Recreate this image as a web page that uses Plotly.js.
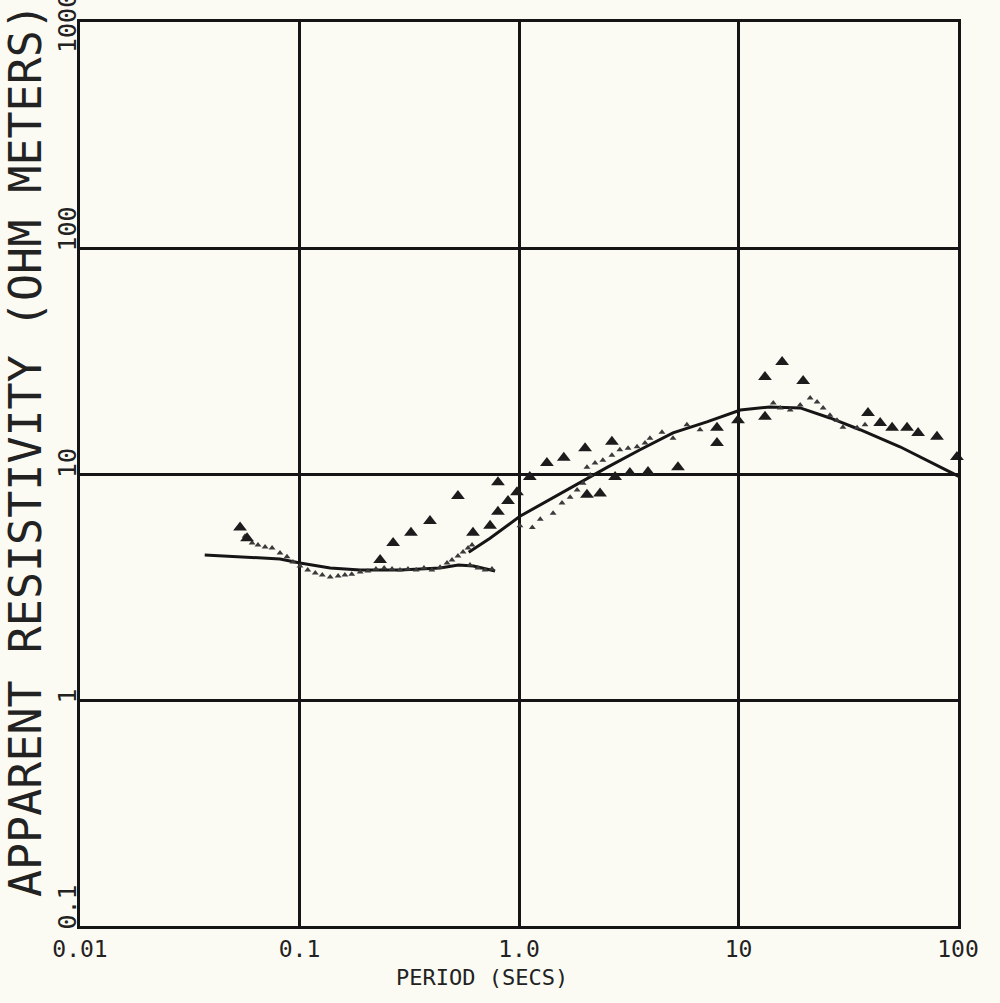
<!DOCTYPE html>
<html><head><meta charset="utf-8">
<script src="https://cdn.plot.ly/plotly-3.0.1.min.js"></script>
<style>html,body{margin:0;padding:0;background:#fcfbf3;}</style>
</head><body><div id="chart" style="width:1000px;height:1003px;"></div>
<script>
// Model curve 1 (short-period branch)
const modelA_period = [0.037, 0.0536, 0.0815, 0.1005, 0.138, 0.189, 0.287, 0.437, 0.53, 0.62, 0.70, 0.778];
const modelA_rho    = [4.38, 4.30, 4.21, 4.04, 3.84, 3.76, 3.76, 3.84, 3.96, 3.92, 3.80, 3.72];
// Model curve 2 (rising branch)
const modelB_period = [0.59, 0.738, 1.01, 1.38, 1.90, 2.52, 3.56, 5.03, 7.18, 10.2, 13.9, 19.1, 26.1, 35.8, 54.4, 100, 155];
const modelB_rho    = [4.5, 5.2, 6.5, 7.7, 9.2, 10.7, 12.8, 15.2, 17.0, 19.2, 19.8, 19.6, 17.7, 15.7, 13.2, 9.8, 7.9];
// Large triangles
const obsA_period = [0.0536, 0.0577, 0.233, 0.267, 0.322, 0.393, 0.527, 0.617, 0.738, 0.802, 0.891, 0.802, 0.979, 1.12, 1.34, 1.60, 2.00, 2.65, 2.04, 2.34, 2.74, 3.20, 3.87, 5.30, 7.98, 7.98, 9.95, 13.2, 15.8, 19.7, 13.2, 38.9, 44.2, 50.1, 58.6, 65.8, 80.2, 98.9, 135.5];
const obsA_rho    = [5.8, 5.2, 4.16, 4.95, 5.5, 6.2, 8.0, 5.5, 5.9, 6.8, 7.6, 9.2, 8.3, 9.7, 11.2, 11.8, 13.0, 13.9, 8.1, 8.2, 9.7, 10.1, 10.2, 10.7, 16.0, 13.7, 17.3, 26.9, 31.3, 25.8, 17.9, 18.6, 16.8, 16.0, 16.0, 15.2, 14.6, 11.9, 9.1];
// Small triangles
const obsB_period = [0.0565, 0.0608, 0.0647, 0.0697, 0.075, 0.0815, 0.0877, 0.0934, 0.1005, 0.109, 0.118, 0.127, 0.138, 0.150, 0.161, 0.173, 0.189, 0.205, 0.223, 0.243, 0.264, 0.287, 0.312, 0.340, 0.369, 0.401, 0.437, 0.470, 0.495, 0.527, 0.556, 0.586, 0.611, 0.598, 0.650, 0.700, 0.753, 1.01, 1.15, 1.25, 1.43, 1.57, 1.71, 1.84, 1.96, 2.11, 2.04, 2.22, 2.41, 2.65, 2.88, 3.14, 3.45, 3.75, 3.95, 4.48, 5.03, 5.82, 6.68, 14.4, 15.5, 17.2, 19.1, 21.2, 22.8, 24.3, 26.1, 28.1, 29.9, 34.7, 37.7];
const obsB_rho    = [5.3, 4.95, 4.85, 4.75, 4.7, 4.47, 4.3, 4.08, 3.92, 3.76, 3.65, 3.57, 3.50, 3.54, 3.57, 3.6, 3.68, 3.72, 3.8, 3.84, 3.8, 3.76, 3.8, 3.76, 3.84, 3.76, 3.87, 4.04, 4.16, 4.34, 4.52, 4.7, 4.85, 3.96, 3.84, 3.76, 3.8, 5.9, 5.8, 6.3, 6.7, 7.45, 7.9, 8.5, 9.1, 9.9, 10.7, 11.2, 11.5, 12.1, 12.8, 13.0, 13.2, 13.7, 14.4, 15.3, 14.4, 16.5, 15.7, 20.6, 19.6, 19.2, 20.2, 21.7, 20.8, 19.6, 18.2, 17.3, 16.1, 16.0, 16.5];
// Tick labels
const xTickVals = [0.01, 0.1, 1, 10, 100];
const xTickText = ['0.01', '0.1', '1.0', '10', '100'];
const yTickVals = [0.1, 1, 10, 100, 1000];
const yTickText = ['0.1', '1', '10', '100', '1000'];

const ink = '#151515';
const mono = 'DejaVu Sans Mono, Liberation Mono, monospace';

const traces = [
  {x: modelA_period, y: modelA_rho, mode: 'lines', line: {color: ink, width: 3}, hoverinfo: 'skip'},
  {x: modelB_period, y: modelB_rho, mode: 'lines', line: {color: ink, width: 3}, hoverinfo: 'skip'},
  {x: obsB_period, y: obsB_rho, mode: 'markers', cliponaxis: false, marker: {symbol: 'triangle-up', size: 6, color: '#3a3a3a'}},
  {x: obsA_period, y: obsA_rho, mode: 'markers', cliponaxis: false, marker: {symbol: 'triangle-up', size: 12, color: '#1c1c1c'}}
];

// y tick labels drawn as rotated annotations, positioned on the y axis values
const yLabelAnns = yTickVals.map((v, i) => ({
  text: yTickText[i], xref: 'paper', yref: 'y', x: -0.0148, y: Math.log10(v),
  xanchor: 'center', yanchor: 'bottom', yshift: (i === yTickVals.length - 1) ? -33 : -6,
  textangle: -90, showarrow: false, font: {family: mono, size: 25, color: '#222'}
}));

const layout = {
  width: 1000, height: 1003,
  margin: {l: 80, r: 42, t: 22, b: 77},
  paper_bgcolor: '#fcfbf3', plot_bgcolor: '#fcfbf3',
  showlegend: false,
  xaxis: {
    type: 'log', range: [-2, 2], tickvals: xTickVals, ticktext: xTickText,
    showgrid: true, gridcolor: ink, gridwidth: 3, showline: true, linecolor: ink, linewidth: 3,
    mirror: true, ticks: '', zeroline: false,
    tickfont: {family: mono, size: 23, color: '#222'}
  },
  yaxis: {
    type: 'log', range: [-1, 3], tickvals: yTickVals, showticklabels: false,
    showgrid: true, gridcolor: ink, gridwidth: 3, showline: true, linecolor: ink, linewidth: 3,
    mirror: true, ticks: '', zeroline: false
  },
  annotations: [
    {text: 'PERIOD (SECS)', xref: 'paper', yref: 'paper', x: 0.458, y: -0.0575, xanchor: 'center', yanchor: 'middle',
     showarrow: false, font: {family: mono, size: 22, color: '#222'}},
    {text: 'APPARENT RESISTIVITY (OHM METERS)', xref: 'paper', yref: 'paper', x: -0.0626, y: 0.5265, xanchor: 'center', yanchor: 'middle',
     textangle: -90, showarrow: false, font: {family: mono, size: 45, color: '#222'}}
  ].concat(yLabelAnns)
};

Plotly.newPlot('chart', traces, layout, {displayModeBar: false, staticPlot: true});
</script></body></html>
